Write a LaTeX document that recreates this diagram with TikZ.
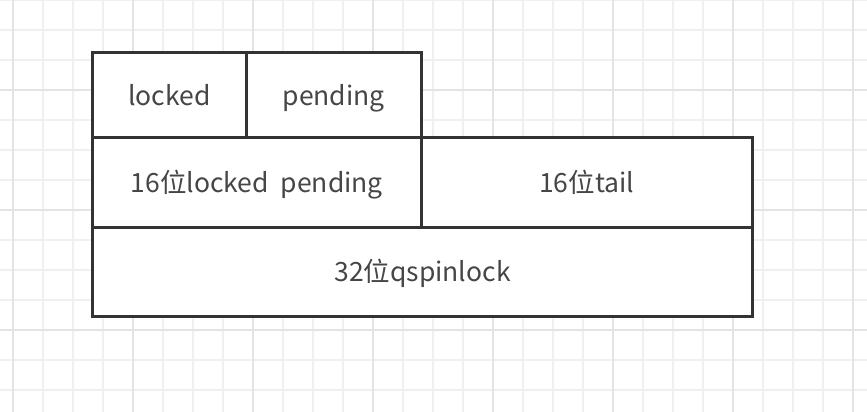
\documentclass[tikz,border=0pt]{standalone}
\usepackage{fontspec}
\setmainfont{Noto Sans CJK SC}
\usepackage{xcolor}
\definecolor{gridminor}{RGB}{240,240,240}
\definecolor{gridmajor}{RGB}{228,228,228}
\definecolor{boxline}{RGB}{51,51,51}
\definecolor{boxtext}{RGB}{70,70,70}

\begin{document}
\begin{tikzpicture}[
    x=1pt, y=-1pt,
    every node/.style={font=\fontsize{26.5}{30}\selectfont, text=boxtext},
    field/.style={draw=boxline, line width=3pt, fill=white, inner sep=0pt,
        text height=24pt, text depth=4pt}
]
\useasboundingbox (0,0) rectangle (867,412);
\fill[white] (0,0) rectangle (867,412);

% Background grid
\foreach \x in {13,43,...,853}
    \draw[gridminor, line width=1.2pt] (\x,0) -- (\x,412);
\foreach \y in {0,30,...,410}
    \draw[gridminor, line width=1.2pt] (0,\y) -- (867,\y);
\foreach \x in {13,133,...,853}
    \draw[gridmajor, line width=1.2pt] (\x,0) -- (\x,412);
\foreach \y in {90,210,330}
    \draw[gridmajor, line width=1.2pt] (0,\y) -- (867,\y);

% Top row: the two bytes
\node[field, minimum width=154pt, minimum height=85pt] (locked) at (169.5,95) {locked};
\node[field, minimum width=174.5pt, minimum height=85pt] (pending) at (333.75,95) {pending};

% Middle row: the two halves
\node[field, minimum width=328.5pt, minimum height=89.5pt] (lp16) at (256.75,182.25) {16位locked\ \ pending};
\node[field, minimum width=331.5pt, minimum height=89.5pt] (tail16) at (586.75,182.25) {16位tail};

% Bottom row: the whole word
\node[field, minimum width=660pt, minimum height=89pt] (qspin32) at (422.5,271.5) {32位qspinlock};
\end{tikzpicture}
\end{document}
